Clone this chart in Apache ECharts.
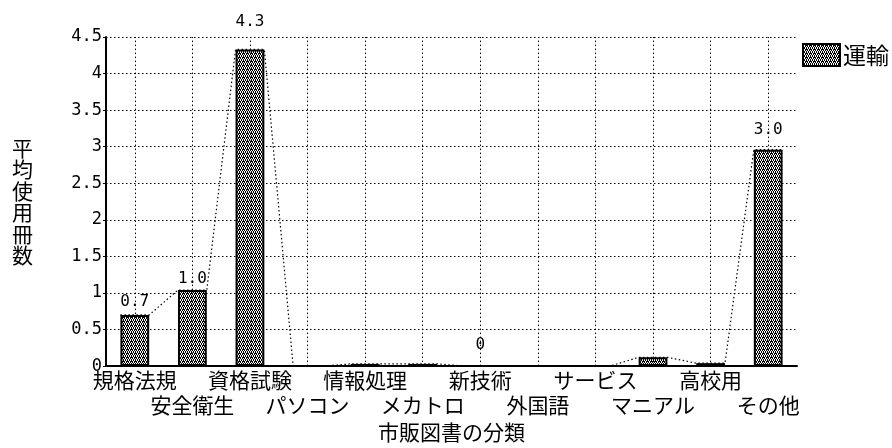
<!DOCTYPE html>
<html>
<head>
<meta charset="utf-8">
<script src="https://cdn.jsdelivr.net/npm/echarts@6/dist/echarts.min.js"></script>
<style>
  html, body { margin: 0; padding: 0; background: #fff; }
  #chart { width: 892px; height: 448px; }
</style>
</head>
<body>
<div id="chart"></div>
<script>
// Categories of commercially available books used (x axis)
const categories = ['規格法規', '安全衛生', '資格試験', 'パソコン', '情報処理', 'メカトロ',
                    '新技術', '外国語', 'サービス', 'マニアル', '高校用', 'その他'];
// Average number of volumes used per category, 運輸 sector
const seriesName = '運輸';
const values = [0.70, 1.04, 4.33, 0, 0.03, 0.03, 0, 0, 0, 0.12, 0.04, 2.96];
// Which bars carry a value label
const labeledIndex = [0, 1, 2, 6, 11];
// Value axis scale
const yMin = 0, yMax = 4.5, yStep = 0.5;
const xTitle = '市販図書の分類';
const yTitle = '平均使用冊数';

// Gap between each value label and its bar top
const labelGap = { 0: 5, 1: 3, 2: 20, 6: 12, 11: 12 };
const barFrac = 0.5;

// Stippled fill: black ground with scattered white dots
const tile = document.createElement('canvas');
tile.width = 4; tile.height = 4;
const tctx = tile.getContext('2d');
tctx.fillStyle = '#000';
tctx.fillRect(0, 0, 4, 4);
tctx.fillStyle = '#fff';
[[0, 0], [2, 0], [1, 1], [3, 2], [1, 2], [0, 3], [2, 3]].forEach(p => tctx.fillRect(p[0], p[1], 1, 1));
const stipple = { image: tile, repeat: 'repeat' };

const mono = '"DejaVu Sans Mono", "Liberation Mono", monospace';
const jp = '"Noto Sans CJK JP", "Noto Sans", sans-serif';

const fmt = v => (v === 0 ? '0' : v.toFixed(1));

// Bars with labels on selected items
const barData = values.map((v, i) => {
  const item = { value: v };
  if (labeledIndex.includes(i)) {
    item.label = { show: true, distance: labelGap[i], formatter: () => fmt(v) };
  }
  return item;
});

// Dotted outline joining the top corners of neighbouring bars
const outline = [];
values.forEach((v, i) => {
  outline.push([i + 0.5 - barFrac / 2, v]);
  outline.push([i + 0.5 + barFrac / 2, v]);
});

const chart = echarts.init(document.getElementById('chart'), null, { renderer: 'canvas' });
chart.setOption({
  animation: false,
  backgroundColor: '#fff',
  grid: { left: 106, right: 95, top: 37, bottom: 75 },
  legend: {
    data: [seriesName],
    left: 802, top: 43,
    padding: 0,
    itemWidth: 37, itemHeight: 22, itemGap: 4,
    icon: 'rect',
    textStyle: { fontSize: 23, color: '#000', fontFamily: jp, padding: [0, 0, 0, -2] }
  },
  xAxis: [{
    type: 'category',
    data: categories,
    axisLine: { lineStyle: { color: '#000', width: 2 } },
    axisTick: { show: false },
    splitLine: { show: false },
    axisLabel: {
      interval: 0,
      color: '#000',
      fontSize: 21,
      lineHeight: 25,
      fontFamily: jp,
      margin: 1,
      formatter: (name, idx) => (idx % 2 === 1 ? '\n' + name : name)
    },
    name: xTitle,
    nameLocation: 'middle',
    nameGap: 50,
    nameTextStyle: { fontSize: 21, color: '#000', fontFamily: jp }
  }, {
    type: 'value',
    min: 0, max: categories.length,
    show: false
  }],
  yAxis: {
    type: 'value',
    min: yMin, max: yMax, interval: yStep,
    axisLine: { show: true, lineStyle: { color: '#000', width: 2 } },
    axisTick: { show: true, length: 3, lineStyle: { color: '#000' } },
    axisLabel: { color: '#000', fontSize: 17, fontFamily: mono, margin: 4 },
    splitLine: { show: true, lineStyle: { color: '#000', width: 1, type: [1.5, 2.5] } },
    name: yTitle.split('').join('\n'),
    nameLocation: 'middle',
    nameRotate: 0,
    nameGap: 73,
    nameTextStyle: { fontSize: 21, lineHeight: 21.5, color: '#000', fontFamily: jp }
  },
  series: [{
    name: 'outline',
    type: 'line',
    xAxisIndex: 1,
    data: outline,
    symbol: 'none',
    silent: true,
    z: 1,
    lineStyle: { color: '#000', width: 1.2, type: [1.5, 2.5] },
    markLine: {
      silent: true,
      symbol: 'none',
      label: { show: false },
      lineStyle: { color: '#000', width: 1, type: [1.5, 2.5] },
      data: categories.map((c, i) => ({ xAxis: i + 0.5 }))
    }
  }, {
    name: seriesName,
    type: 'bar',
    xAxisIndex: 0,
    data: barData,
    barWidth: (barFrac * 100) + '%',
    z: 3,
    itemStyle: { color: stipple, borderColor: '#000', borderWidth: 2 },
    label: {
      show: false,
      position: 'top',
      color: '#000',
      fontSize: 16,
      fontFamily: mono
    }
  }]
});
</script>
</body>
</html>
